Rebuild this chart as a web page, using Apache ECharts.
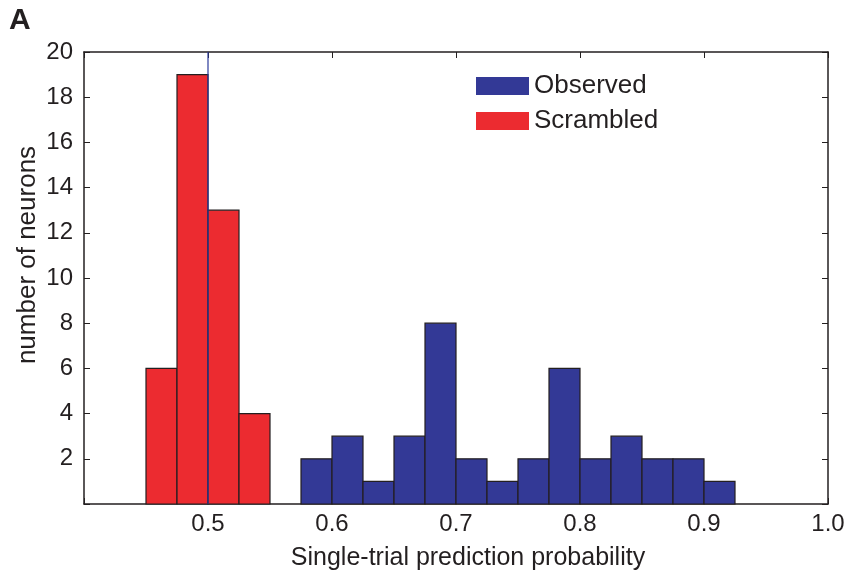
<!DOCTYPE html>
<html>
<head>
<meta charset="utf-8">
<script src="https://cdn.jsdelivr.net/npm/echarts@6/dist/echarts.min.js"></script>
<style>
  html, body { margin: 0; padding: 0; background: #fff; }
  #chart { width: 851px; height: 576px; }
</style>
</head>
<body>
<div id="chart"></div>
<script>
// histogram bins (left edges) and counts
var binWidth = 0.025;
var scrambledStart = [0.45, 0.475, 0.5, 0.525];
var scrambledCounts = [6, 19, 13, 4];
var observedStart = [0.575, 0.6, 0.625, 0.65, 0.675, 0.7, 0.725, 0.75, 0.775, 0.8, 0.825, 0.85, 0.875, 0.9];
var observedCounts = [2, 3, 1, 3, 8, 2, 1, 2, 6, 2, 3, 2, 2, 1];
var refLineX = 0.5;   // thin blue line
var xTicks = [0.5, 0.6, 0.7, 0.8, 0.9, 1.0];
var yTicks = [2, 4, 6, 8, 10, 12, 14, 16, 18, 20];

var fontFam = '"Liberation Sans", Arial, sans-serif';
var textCol = '#231f20';

function toData(starts, counts) {
    return starts.map(function (s, i) { return [s, s + binWidth, counts[i]]; });
}

// draw a histogram bar from api.coord
function renderBin(color) {
    return function (params, api) {
        var p0 = api.coord([api.value(0), 0]);
        var p1 = api.coord([api.value(1), api.value(2)]);
        return {
            type: 'rect',
            shape: { x: p0[0], y: p1[1], width: p1[0] - p0[0], height: p0[1] - p1[1] },
            style: { fill: color, stroke: '#231f20', lineWidth: 1.2 }
        };
    };
}

var chart = echarts.init(document.getElementById('chart'));

var axisLineStyle = { color: '#231f20', width: 1.5 };

chart.setOption({
    animation: false,
    grid: { left: 84, right: 23, top: 52, bottom: 71 },
    graphic: [{
        type: 'text', left: 9, top: 6,
        style: { text: 'A', font: 'bold 30px ' + fontFam, fill: textCol }
    }],
    legend: {
        left: 471, top: 68,
        orient: 'vertical',
        itemWidth: 53, itemHeight: 18, itemGap: 9,
        icon: 'rect',
        data: ['Observed', 'Scrambled'],
        textStyle: { fontFamily: fontFam, fontSize: 26, color: textCol },
        selectedMode: false
    },
    xAxis: [{
        type: 'value', min: 0.4, max: 1.0, interval: 0.1,
        name: 'Single-trial prediction probability',
        nameLocation: 'middle', nameGap: 42, nameMoveOverlap: false,
        nameTextStyle: { fontFamily: fontFam, fontSize: 25, color: textCol, padding: [0, 0, 0, 24] },
        axisLine: { show: true, onZero: false, lineStyle: axisLineStyle },
        axisTick: { show: true, inside: true, length: 6, lineStyle: { color: '#231f20' } },
        axisLabel: {
            fontFamily: fontFam, fontSize: 24, color: textCol, margin: 8,
            formatter: function (v) { return xTicks.indexOf(+v.toFixed(1)) >= 0 ? v.toFixed(1) : ''; }
        },
        splitLine: { show: false }
    }, {
        type: 'value', min: 0.4, max: 1.0, interval: 0.1, position: 'top',
        axisLine: { show: true, onZero: false, lineStyle: axisLineStyle },
        axisTick: { show: true, inside: true, length: 6, lineStyle: { color: '#231f20' } },
        axisLabel: { show: false },
        splitLine: { show: false }
    }],
    yAxis: [{
        type: 'value', min: 0, max: 20, interval: 2,
        name: 'number of neurons',
        nameLocation: 'middle', nameGap: 43, nameMoveOverlap: false,
        nameTextStyle: { fontFamily: fontFam, fontSize: 26, color: textCol, padding: [0, 0, 0, 46] },
        axisLine: { show: true, onZero: false, lineStyle: axisLineStyle },
        axisTick: { show: true, inside: true, length: 6, lineStyle: { color: '#231f20' } },
        axisLabel: {
            fontFamily: fontFam, fontSize: 24, color: textCol, margin: 11,
            formatter: function (v) { return yTicks.indexOf(v) >= 0 ? String(v) : ''; }
        },
        splitLine: { show: false }
    }, {
        type: 'value', min: 0, max: 20, interval: 2, position: 'right',
        axisLine: { show: true, onZero: false, lineStyle: axisLineStyle },
        axisTick: { show: true, inside: true, length: 6, lineStyle: { color: '#231f20' } },
        axisLabel: { show: false },
        splitLine: { show: false }
    }],
    series: [{
        name: 'Observed',
        type: 'custom',
        itemStyle: { color: '#333996' },
        renderItem: renderBin('#333996'),
        encode: { x: [0, 1], y: 2 },
        data: toData(observedStart, observedCounts)
    }, {
        name: 'Scrambled',
        type: 'custom',
        itemStyle: { color: '#ec2b30' },
        renderItem: renderBin('#ec2b30'),
        encode: { x: [0, 1], y: 2 },
        data: toData(scrambledStart, scrambledCounts)
    }, {
        name: 'ref',
        type: 'line',
        symbol: 'none',
        silent: true,
        lineStyle: { color: '#2b3a9a', width: 1.2 },
        data: [[refLineX, 0], [refLineX, 20]],
        z: 5
    }]
});
</script>
</body>
</html>
